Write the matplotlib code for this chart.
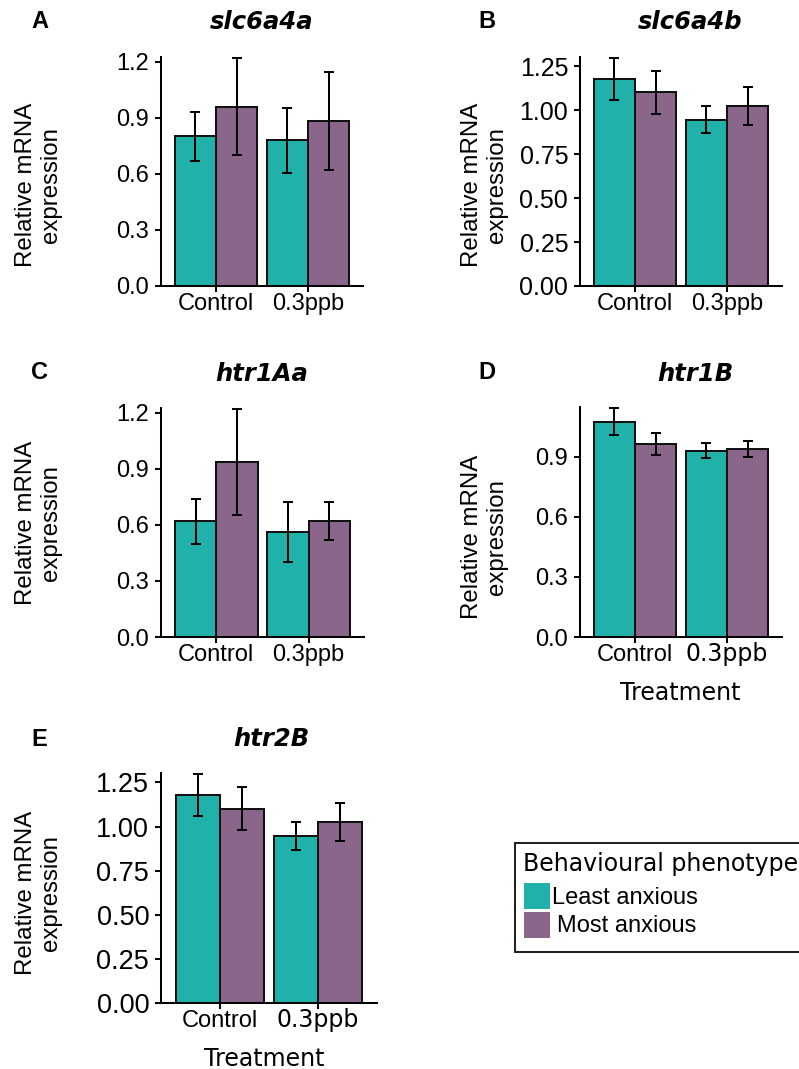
import matplotlib
matplotlib.use("Agg")
import matplotlib.pyplot as plt
from matplotlib.patches import Rectangle
import numpy as np

W, H, DPI = 799, 1069, 100

treatments = ["Control", "0.3ppb"]
phenotypes = ["Least anxious", "Most anxious"]
legend_title = "Behavioural phenotype"
colors = ["#20B2AA", "#8B668B"]

genes = ["slc6a4a", "slc6a4b", "htr1Aa", "htr1B", "htr2B"]
letters = ["A", "B", "C", "D", "E"]

# means and standard errors (Control, 0.3ppb)
slc6a4a_least = [0.80, 0.78]
slc6a4a_least_se = [0.133, 0.174]
slc6a4a_most = [0.96, 0.884]
slc6a4a_most_se = [0.26, 0.262]

slc6a4b_least = [1.178, 0.947]
slc6a4b_least_se = [0.12, 0.078]
slc6a4b_most = [1.102, 1.027]
slc6a4b_most_se = [0.123, 0.108]

htr1Aa_least = [0.619, 0.562]
htr1Aa_least_se = [0.12, 0.159]
htr1Aa_most = [0.937, 0.622]
htr1Aa_most_se = [0.283, 0.101]

htr1B_least = [1.075, 0.930]
htr1B_least_se = [0.068, 0.037]
htr1B_most = [0.963, 0.938]
htr1B_most_se = [0.055, 0.040]

htr2B_least = [1.178, 0.947]
htr2B_least_se = [0.12, 0.078]
htr2B_most = [1.102, 1.027]
htr2B_most_se = [0.123, 0.108]

yticks_a = [0.0, 0.3, 0.6, 0.9, 1.2]
yticks_b = [0.00, 0.25, 0.50, 0.75, 1.00, 1.25]
yticks_c = [0.0, 0.3, 0.6, 0.9, 1.2]
yticks_d = [0.0, 0.3, 0.6, 0.9]
yticks_e = [0.00, 0.25, 0.50, 0.75, 1.00, 1.25]

ylabel_lines = ["Relative mRNA", "expression"]
xlabel = "Treatment"

fig = plt.figure(figsize=(W / DPI, H / DPI), dpi=DPI)


def fx(x):
    return x / W


def fy(y):
    return 1 - y / H


def rect(x0, y0, x1, y1):
    return [fx(x0), fy(y1), (x1 - x0) / W, (y1 - y0) / H]


panels = [
    dict(gene="slc6a4a", least=slc6a4a_least, lse=slc6a4a_least_se, most=slc6a4a_most, mse=slc6a4a_most_se,
         yt=yticks_a, fmt="{:.1f}", box=(161, 57, 363, 286), title_xy=(262, 29), letter_xy=(31, 28),
         ylab_x=32.3, ylab_y=185, xlab=None, ytfs=17, dv=False),
    dict(gene="slc6a4b", least=slc6a4b_least, lse=slc6a4b_least_se, most=slc6a4b_most, mse=slc6a4b_most_se,
         yt=yticks_b, fmt="{:.2f}", box=(580, 57, 782, 286), title_xy=(690, 29), letter_xy=(478, 28),
         ylab_x=478.5, ylab_y=185, xlab=None, ytfs=18, dv=False),
    dict(gene="htr1Aa", least=htr1Aa_least, lse=htr1Aa_least_se, most=htr1Aa_most, mse=htr1Aa_most_se,
         yt=yticks_c, fmt="{:.1f}", box=(161, 408, 364, 637), title_xy=(262, 381), letter_xy=(31, 379),
         ylab_x=32.3, ylab_y=523, xlab=None, ytfs=17, dv=False),
    dict(gene="htr1B", least=htr1B_least, lse=htr1B_least_se, most=htr1B_most, mse=htr1B_most_se,
         yt=yticks_d, fmt="{:.1f}", box=(580, 407, 782, 637), title_xy=(695, 381), letter_xy=(478, 379),
         ylab_x=478.5, ylab_y=537, xlab=(680, 700), ytfs=17, dv=True),
    dict(gene="htr2B", least=htr2B_least, lse=htr2B_least_se, most=htr2B_most, mse=htr2B_most_se,
         yt=yticks_e, fmt="{:.2f}", box=(161, 773, 377, 1003), title_xy=(271, 746), letter_xy=(31, 746),
         ylab_x=32.3, ylab_y=893, xlab=(264, 1066), ytfs=19.5, dv=True),
]

lw = 1.45
x = np.arange(1, len(treatments) + 1)
bw = 0.45

for p, letter in zip(panels, letters):
    ax = fig.add_axes(rect(*p["box"]))
    ax.bar(x - bw / 2, p["least"], width=bw, color=colors[0], edgecolor="#111111", linewidth=lw, zorder=2)
    ax.bar(x + bw / 2, p["most"], width=bw, color=colors[1], edgecolor="#111111", linewidth=lw, zorder=2)
    ax.errorbar(x - bw / 2, p["least"], yerr=p["lse"], fmt="none", ecolor="black",
                elinewidth=lw, capsize=3.6, capthick=lw, zorder=3, clip_on=False)
    ax.errorbar(x + bw / 2, p["most"], yerr=p["mse"], fmt="none", ecolor="black",
                elinewidth=lw, capsize=3.6, capthick=lw, zorder=3, clip_on=False)
    top = max(max(np.add(p["least"], p["lse"])), max(np.add(p["most"], p["mse"])))
    ax.set_xlim(0.4, 2.6)
    ax.set_ylim(0, top * 1.004)
    for s in ["top", "right"]:
        ax.spines[s].set_visible(False)
    for s in ["left", "bottom"]:
        ax.spines[s].set_linewidth(lw)
        ax.spines[s].set_color("black")
    ax.tick_params(axis="both", direction="out", length=4.5, width=lw, colors="black")
    ax.tick_params(axis="y", pad=4)
    ax.tick_params(axis="x", pad=13.1)
    ax.set_yticks(p["yt"])
    ax.set_yticklabels([p["fmt"].format(v) for v in p["yt"]], fontfamily="Liberation Sans",
                       fontsize=p["ytfs"])
    ax.set_xticks(x)
    labs = ax.set_xticklabels(treatments, fontfamily="Liberation Sans", fontsize=17, va="baseline")
    if p["dv"]:
        labs[1].set_fontfamily("DejaVu Sans")
        labs[1].set_fontsize(17)
    ax.set_facecolor("white")

    fig.text(fx(p["title_xy"][0]), fy(p["title_xy"][1]), p["gene"], ha="center", va="baseline",
             fontfamily="DejaVu Sans", fontweight="bold", fontstyle="italic", fontsize=17.5)
    fig.text(fx(p["letter_xy"][0]), fy(p["letter_xy"][1]), letter, ha="left", va="baseline",
             fontfamily="Liberation Sans", fontweight="bold", fontsize=17)
    for k, line in enumerate(ylabel_lines):
        fig.text(fx(p["ylab_x"] + 25 * k), fy(p["ylab_y"]), line, rotation=90, rotation_mode="anchor",
                 ha="center", va="baseline", fontfamily="Liberation Sans", fontsize=17.3)
    if p["xlab"] is not None:
        fig.text(fx(p["xlab"][0]), fy(p["xlab"][1]), xlabel, ha="center", va="baseline",
                 fontfamily="DejaVu Sans", fontsize=17)

# legend
fig.add_artist(Rectangle((fx(515), fy(952)), (810 - 515) / W, (952 - 843) / H, transform=fig.transFigure,
                         facecolor="white", edgecolor="#222222", linewidth=lw, clip_on=False))
fig.text(fx(523), fy(871.5), legend_title, ha="left", va="baseline", fontfamily="DejaVu Sans", fontsize=17)
box_y = [883, 912]
lab_x = [552, 557]
lab_base = [904, 932.5]
for c, lab, by, lx, lb in zip(colors, phenotypes, box_y, lab_x, lab_base):
    fig.add_artist(Rectangle((fx(524), fy(by + 26)), 26 / W, 26 / H, transform=fig.transFigure,
                             facecolor=c, edgecolor="none"))
    fig.text(fx(lx), fy(lb), lab, ha="left", va="baseline", fontfamily="Liberation Sans", fontsize=17)

fig.savefig("out.png", dpi=DPI, facecolor="white")
